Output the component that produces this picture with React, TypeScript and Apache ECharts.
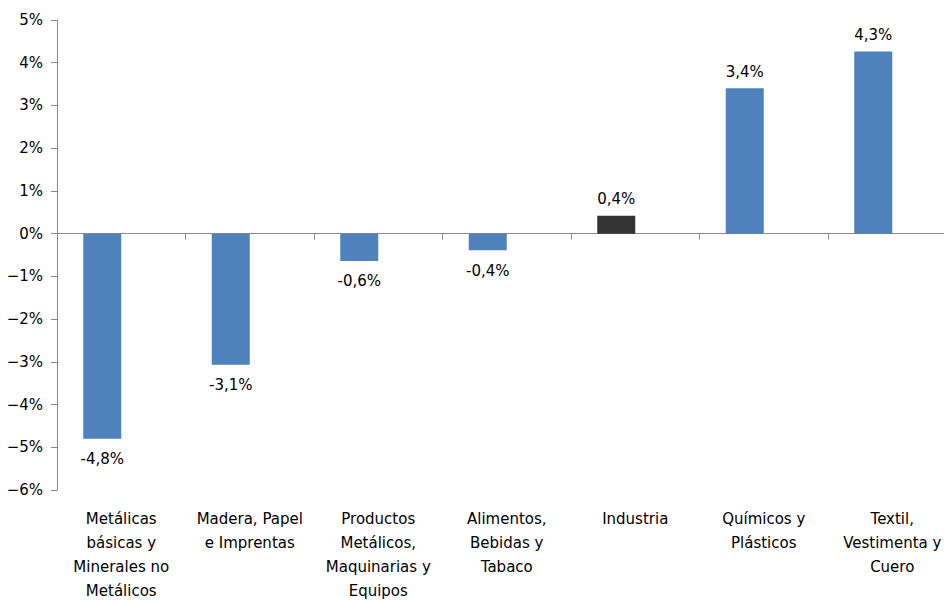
import React, { useEffect, useRef } from "react";
import * as echarts from "echarts";

const categories = [
  "Metálicas\nbásicas y\nMinerales no\nMetálicos",
  "Madera, Papel\ne Imprentas",
  "Productos\nMetálicos,\nMaquinarias y\nEquipos",
  "Alimentos,\nBebidas y\nTabaco",
  "Industria",
  "Químicos y\nPlásticos",
  "Textil,\nVestimenta y\nCuero",
];
const values = [-4.8, -3.07, -0.64, -0.39, 0.42, 3.4, 4.26];
const highlightCategory = "Industria";
const yTicks = { min: -6, max: 5, interval: 1 };

const FONT = "DejaVu Sans";

export default function App() {
  const ref = useRef<HTMLDivElement>(null);
  useEffect(() => {
    if (!ref.current) return;
    const chart = echarts.init(ref.current, undefined, { renderer: "svg" });
    const fmt = (v: number) => v.toFixed(1).replace(".", ",") + "%";
    const data = values.map((v, i) => ({
      value: v,
      itemStyle: { color: categories[i] === highlightCategory ? "#333333" : "#4F81BD" },
      label: {
        show: true,
        position: v >= 0 ? "top" : "bottom",
        distance: v >= 0 ? 9 : 13,
        formatter: () => fmt(v),
        color: "#000",
        fontFamily: FONT,
        fontSize: 15,
      },
    }));
    chart.setOption({
      animation: false,
      backgroundColor: "#ffffff",
      grid: {
        left: 57,
        top: 20,
        width: 899.5,
        height: 470,
        containLabel: false,
        outerBoundsMode: "none",
      },
      xAxis: [
        {
          type: "category",
          data: categories,
          position: "bottom",
          axisLine: { show: true, onZero: true, lineStyle: { color: "#888888", width: 1 } },
          axisTick: { show: true, length: 6, lineStyle: { color: "#888888" } },
          axisLabel: { show: false },
          splitLine: { show: false },
        },
        {
          type: "category",
          data: categories,
          position: "bottom",
          axisLine: { show: false, onZero: false },
          axisTick: { show: false },
          splitLine: { show: false },
          axisLabel: {
            show: true,
            interval: 0,
            margin: 17,
            color: "#000",
            fontFamily: FONT,
            fontSize: 15,
            lineHeight: 24,
            align: "center",
            verticalAlign: "top",
          },
        },
      ],
      yAxis: {
        type: "value",
        min: yTicks.min,
        max: yTicks.max,
        interval: yTicks.interval,
        axisLine: { show: true, lineStyle: { color: "#888888", width: 1 } },
        axisTick: { show: true, length: 6, lineStyle: { color: "#888888" } },
        splitLine: { show: false },
        axisLabel: {
          margin: 14,
          color: "#000",
          fontFamily: FONT,
          fontSize: 15,
          formatter: (v: number) => (v < 0 ? "\u2212" + Math.abs(v) : String(v)) + "%",
        },
      },
      series: [
        {
          type: "bar",
          xAxisIndex: 0,
          data,
          barWidth: 38,
          barGap: "0%",
        },
        {
          type: "bar",
          xAxisIndex: 0,
          data: values.map(() => null),
          barWidth: 38,
          barGap: "0%",
        },
      ],
    });
    return () => chart.dispose();
  }, []);
  return (
    <div
      ref={ref}
      style={{ position: "absolute", left: 0, top: 0, width: 944, height: 601, overflow: "hidden" }}
    />
  );
}
